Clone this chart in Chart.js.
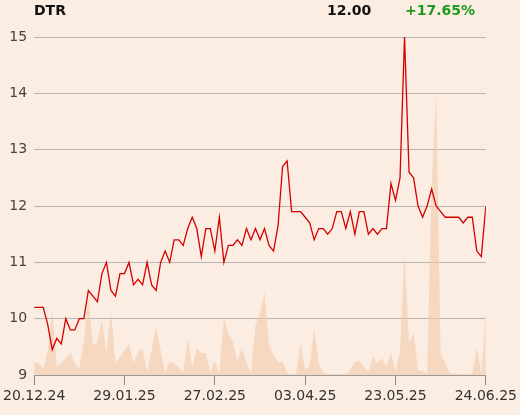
<!DOCTYPE html>
<html>
<head>
<meta charset="utf-8">
<script src="https://cdn.jsdelivr.net/npm/chart.js@4/dist/chart.umd.min.js"></script>
<style>
  html, body { margin: 0; padding: 0; background: #fbede1; }
  #wrap { position: relative; width: 520px; height: 415px; background: #fbede1; }
  canvas { position: absolute; left: 0; top: 0; }
  .hdr { position: absolute; top: 2px; font: bold 14px "DejaVu Sans", sans-serif; color: #111; white-space: nowrap; }
</style>
</head>
<body>
<div id="wrap">
  <canvas id="c" width="520" height="415"></canvas>
  <div class="hdr" style="left:34px">DTR</div>
  <div class="hdr" style="left:327px">12.00</div>
  <div class="hdr" style="left:405px;color:#1f9a1f">+17.65%</div>
</div>
<script>
// x tick labels (every 20th trading point)
const tickLabels = ["20.12.24", "29.01.25", "27.02.25", "03.04.25", "23.05.25", "24.06.25"];

// closing prices, one per trading point (101 points)
const prices = [
  10.2, 10.2, 10.2, 9.9, 9.45, 9.65, 9.55, 10.0, 9.8, 9.8,
  10.0, 10.0, 10.5, 10.4, 10.3, 10.8, 11.0, 10.5, 10.4, 10.8,
  10.8, 11.0, 10.6, 10.7, 10.6, 11.0, 10.6, 10.5, 11.0, 11.2,
  11.0, 11.4, 11.4, 11.3, 11.6, 11.8, 11.6, 11.1, 11.6, 11.6,
  11.2, 11.8, 11.0, 11.3, 11.3, 11.4, 11.3, 11.6, 11.4, 11.6,
  11.4, 11.6, 11.3, 11.2, 11.65, 12.7, 12.8, 11.9, 11.9, 11.9,
  11.8, 11.7, 11.4, 11.6, 11.6, 11.5, 11.6, 11.9, 11.9, 11.6,
  11.9, 11.5, 11.9, 11.9, 11.5, 11.6, 11.5, 11.6, 11.6, 12.4,
  12.1, 12.5, 15.0, 12.6, 12.5, 12.0, 11.8, 12.0, 12.3, 12.0,
  11.9, 11.8, 11.8, 11.8, 11.8, 11.7, 11.8, 11.8, 11.2, 11.1,
  12.0
];

// traded volume (relative units), one per trading point
const volumes = [
  13, 12, 6, 25, 66, 8, 12, 17, 22, 12,
  6, 35, 77, 30, 33, 55, 22, 65, 12, 18,
  25, 31, 12, 23, 26, 3, 25, 49, 25, 2,
  14, 12, 8, 2, 36, 8, 27, 22, 22, 3,
  14, 2, 58, 42, 33, 14, 27, 13, 2, 50,
  62, 83, 30, 20, 13, 13, 2, 1, 1, 33,
  5, 10, 46, 12, 3, 1, 1, 1, 1, 1,
  5, 13, 14, 8, 3, 18, 12, 17, 9, 22,
  3, 25, 122, 33, 42, 5, 4, 2, 190, 284,
  20, 13, 2, 1, 1, 1, 1, 2, 27, 2,
  62
];

const pricePts = prices.map((v, i) => ({ x: i, y: v }));
const volPts = volumes.map((v, i) => ({ x: i, y: v }));

new Chart(document.getElementById('c'), {
  type: 'line',
  data: {
    datasets: [
      {
        data: pricePts,
        yAxisID: 'y',
        borderColor: '#d40000',
        borderWidth: 1.3,
        pointRadius: 0,
        tension: 0,
        fill: false,
        order: 0
      },
      {
        data: volPts,
        yAxisID: 'y2',
        borderWidth: 0,
        borderColor: 'rgba(0,0,0,0)',
        backgroundColor: 'rgba(244,202,172,0.6)',
        pointRadius: 0,
        tension: 0,
        fill: 'origin',
        order: 1
      }
    ]
  },
  options: {
    responsive: false,
    animation: false,
    events: [],
    layout: { padding: { top: 37, right: 34, bottom: 0, left: 0 } },
    plugins: { legend: { display: false }, tooltip: { enabled: false } },
    scales: {
      x: {
        type: 'linear',
        min: 0,
        max: 100,
        afterFit: (s) => { s.height = 40; },
        ticks: {
          stepSize: 20,
          autoSkip: false,
          maxRotation: 0,
          padding: 3,
          color: '#333',
          font: { family: 'DejaVu Sans', size: 14 },
          callback: (v) => tickLabels[Math.round(v / 20)]
        },
        grid: { drawOnChartArea: false, drawTicks: true, tickLength: 10, color: '#8a8a8a' },
        border: { display: true, color: '#999' }
      },
      y: {
        min: 9,
        max: 15,
        afterFit: (s) => { s.width = 34; },
        ticks: {
          stepSize: 1,
          padding: 7,
          color: '#444',
          font: { family: 'DejaVu Sans', size: 14 }
        },
        grid: { color: '#b5b5b5', drawTicks: false },
        border: { display: false }
      },
      y2: {
        display: false,
        min: 0,
        max: 338
      }
    }
  }
});
</script>
</body>
</html>
